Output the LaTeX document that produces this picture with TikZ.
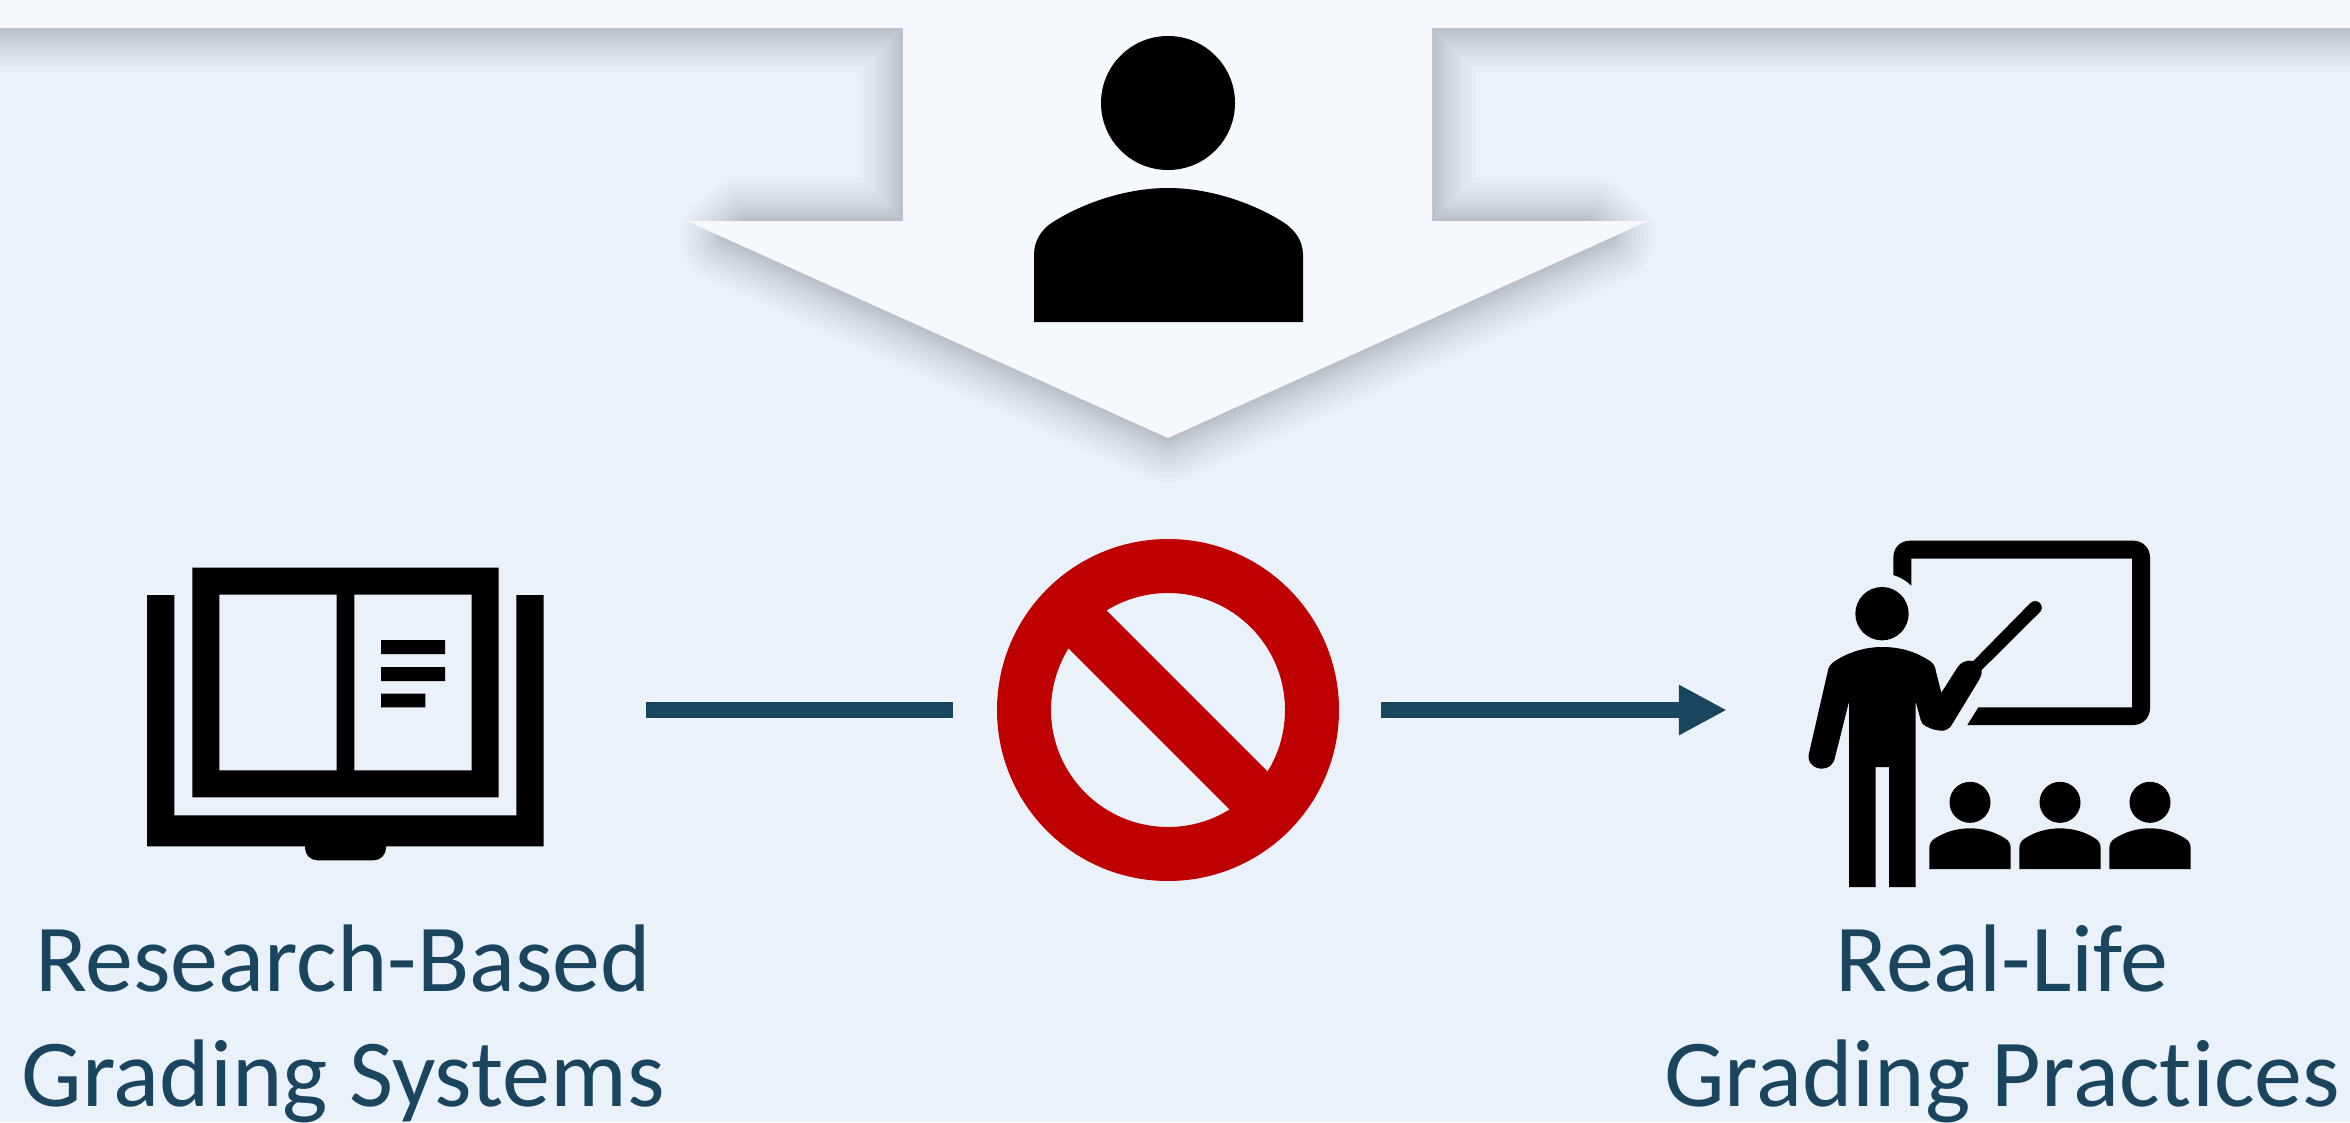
\documentclass[tikz,border=0pt]{standalone}
\usepackage{fontspec}
\setmainfont[Ligatures=NoCommon]{Carlito}
\usetikzlibrary{arrows.meta}
\definecolor{bgblue}{HTML}{EAF1F9}
\definecolor{panel}{HTML}{F5F9FE}
\definecolor{navy}{HTML}{1A455E}
\definecolor{stopred}{HTML}{BF0000}
\tikzset{
  lbl/.style={text=navy,align=center,inner sep=0pt,font=\fontsize{96}{115.5}\selectfont},
  anchorbox/.style={inner sep=0pt,outer sep=0pt,draw=none},
  conn/.style={draw=navy,line width=16pt},
  ink/.style={fill=black,draw=none},
  shadowline/.style={draw=black,draw opacity=.0145,line join=round}
}
\begin{document}
\begin{tikzpicture}[x=1pt,y=-1pt]
\useasboundingbox (0,0) rectangle (2350,1122);
\fill[bgblue] (0,0) rectangle (2350,1122);
% panel with arrow, and its soft shadow
\def\panelpath{(-120,-120) -- (2470,-120) -- (2470,28) -- (1432,28) -- (1432,221) -- (1648,221) -- (1168,438) -- (687,221) -- (903,221) -- (903,28) -- (-120,28) -- cycle}
\def\shadowpath{(-120,-120) -- (2470,-120) -- (2470,28) -- (1432,28) -- (1432,221) -- (1590,221) -- (1610,238) -- (1168,438) -- (725,238) -- (745,221) -- (903,221) -- (903,28) -- (-120,28) -- cycle}
\begin{scope}
\clip (0,0) rectangle (2350,1122);
\foreach \w in {88,78,68,60,52,44,36,30,24,18,12,6}{
  \draw[shadowline,line width=\w pt] \shadowpath;
}
\fill[panel] \panelpath;
\end{scope}
% top person
\node[ink,circle,minimum size=134pt,inner sep=0pt] (tophead) at (1168,103) {};
\fill[black] (1034,322) -- (1034,255) .. controls (1034,240) and (1042,230) .. (1050,224)
  .. controls (1080,204) and (1125,188) .. (1168,188)
  .. controls (1211,188) and (1256,204) .. (1286,224)
  .. controls (1294,230) and (1303,240) .. (1303,255) -- (1303,322) -- cycle;
% book
\node[anchorbox,minimum width=397pt,minimum height=266pt] (book) at (345.5,710) {};
\fill[black,even odd rule] (147,595) -- (174.3,595) -- (174.3,815.3) -- (516.3,815.3) -- (516.3,595) -- (543.7,595)
  -- (543.7,846.3) -- (386,846.3) -- (386,848) arc[start angle=0,end angle=90,radius=12.3] -- (317.3,860.3)
  arc[start angle=90,end angle=180,radius=12.3] -- (305,846.3) -- (147,846.3) -- cycle;
\fill[black,even odd rule] (192.3,567.7) rectangle (498.7,797.3)
  (219.3,594.7) rectangle (336.7,770.3)
  (354.3,594.7) rectangle (471.7,770.3);
\fill[black] (381,640) rectangle (445,654) (381,667) rectangle (445,681) (381,693.7) rectangle (425.3,707.3);
% prohibition sign
\node[anchorbox,circle,minimum size=342pt] (noentry) at (1168,710) {};
\fill[stopred,even odd rule] (1168,710) circle[radius=171] (1168,710) circle[radius=117];
\fill[stopred] (1092,596) -- (1054,634) -- (1244,824) -- (1282,786) -- cycle;
% teacher
\begin{scope}[shift={(1780,520)},x=0.33333pt,y=-0.33333pt]
\node[anchorbox,minimum width=1pt,minimum height=1pt] (teacher) at (85,570) {};
\fill[black] (340,165) -- (340,112) .. controls (340,82) and (362,62) .. (390,62) -- (1060,62)
  .. controls (1088,62) and (1110,84) .. (1110,112) -- (1110,565) .. controls (1110,593) and (1088,615) .. (1060,615)
  -- (562,615) -- (595,562) -- (1056,562) -- (1056,116) -- (394,116) -- (394,197)
  .. controls (378,181) and (360,171) .. (340,165) -- cycle;
\fill[black] (306,281) circle[radius=80];
\fill[black] (207,1101) -- (207,545) -- (165,712) .. controls (160,735) and (145,746) .. (125,746)
  .. controls (100,746) and (80,725) .. (87,700) -- (143,455) .. controls (145,440) and (152,432) .. (165,423)
  .. controls (205,397) and (255,381) .. (306,381) .. controls (365,381) and (410,397) .. (450,423)
  .. controls (460,430) and (466,440) .. (468,455) -- (484,518) -- (532,443)
  .. controls (540,428) and (560,418) .. (580,423) -- (750,250)
  .. controls (760,240) and (775,241) .. (782,252) .. controls (788,262) and (786,270) .. (778,278)
  -- (605,450) .. controls (605,465) and (602,472) .. (597,480) -- (518,610)
  .. controls (510,627) and (495,634) .. (480,632) .. controls (460,630) and (440,622) .. (428,612)
  .. controls (424,608) and (423,604) .. (422,600) -- (407,545) -- (407,1101) -- (327,1101) -- (327,741) -- (287,741) -- (287,1101) -- cycle;
\foreach \cx in {570,840,1110}{
  \fill[black] (\cx,847) circle[radius=61.5];
  \fill[black] (\cx-122,1047) -- (\cx-122,985) .. controls (\cx-122,970) and (\cx-116,962) .. (\cx-105,955)
    .. controls (\cx-75,936) and (\cx-40,925) .. (\cx,925)
    .. controls (\cx+40,925) and (\cx+75,936) .. (\cx+105,955)
    .. controls (\cx+116,962) and (\cx+122,970) .. (\cx+122,985) -- (\cx+122,1047) -- cycle;
}
\end{scope}
% connectors
\draw[conn,shorten <=102pt,shorten >=44pt] (book.east) -- (book.east -| noentry.west);
\draw[conn,-{Triangle[length=48pt,width=47pt]},shorten <=42pt,shorten >=81pt] (noentry.east) -- (noentry.east -| teacher.west);
% labels
\node[lbl] (research) at (343,1024) {Research-Based\\Grading Systems};
\node[lbl] (reallife) at (2002,1024) {Real-Life\\Grading Practices};
\end{tikzpicture}
\end{document}
